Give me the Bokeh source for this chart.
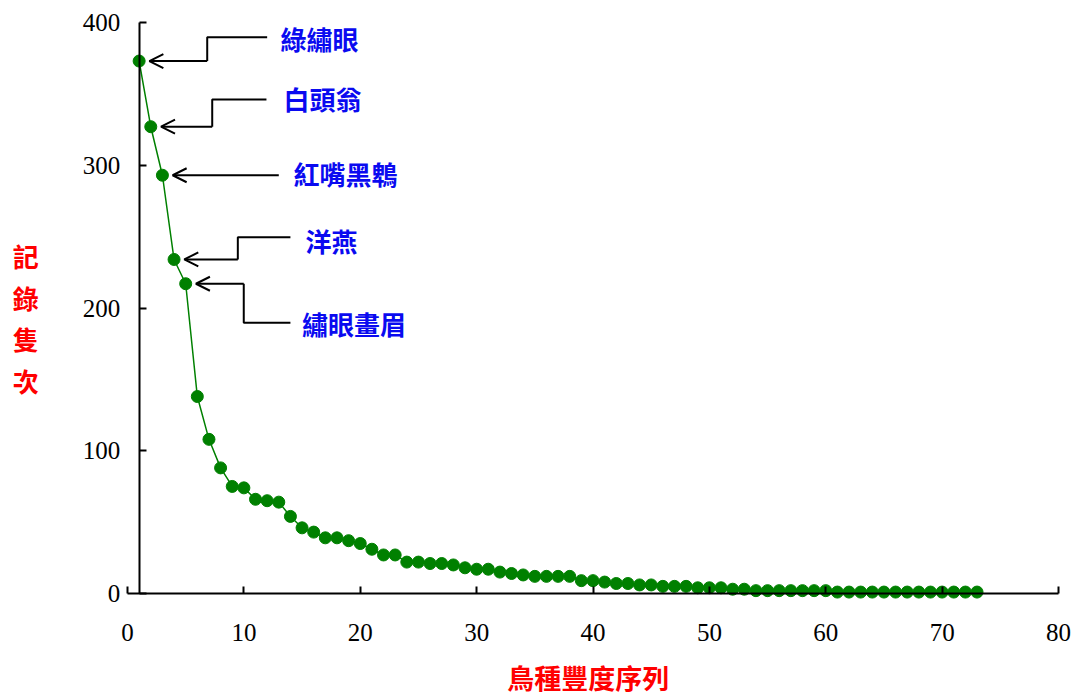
from bokeh.plotting import figure
from bokeh.models import Range1d, Label, Arrow, OpenHead
from bokeh.embed import file_html
from bokeh.resources import INLINE

# ---------------- data ----------------
ranks = list(range(1, 74))
counts = [373, 327, 293, 234, 217, 138, 108, 88, 75, 74,
          66, 65, 64, 54, 46, 43, 39, 39, 37, 35,
          31, 27, 27, 22, 22, 21, 21, 20, 18, 17,
          17, 15, 14, 13, 12, 12, 12, 12, 9, 9,
          8, 7, 7, 6, 6, 5, 5, 5, 4, 4,
          4, 3, 3, 2, 2, 2, 2, 2, 2, 2,
          1, 1, 1, 1, 1, 1, 1, 1, 1, 1, 1, 1, 1]
x_ticks = [0, 10, 20, 30, 40, 50, 60, 70, 80]
y_ticks = [0, 100, 200, 300, 400]

species = ["綠繡眼", "白頭翁", "紅嘴黑鵯", "洋燕", "繡眼畫眉"]
species_rank = [1, 2, 3, 4, 5]

x_title = "鳥種豐度序列"
y_title = "記\n錄\n隻\n次"

GREEN = "#008000"
BLUE = "#0A0AF0"
RED = "#FF0000"
CJK = "Noto Sans CJK TC"

W, H = 1076, 696
PX_X = 11.6375   # pixels per x unit
PX_Y = 1.4275    # pixels per y unit
X0_PIX, Y400_PIX = 127, 22

p = figure(width=W, height=H, output_backend="svg", toolbar_location=None,
           x_range=Range1d(-X0_PIX / PX_X, (W - X0_PIX) / PX_X),
           y_range=Range1d(400 - (H - Y400_PIX) / PX_Y, 400 + Y400_PIX / PX_Y),
           min_border=0, min_border_left=0, min_border_right=0,
           min_border_top=0, min_border_bottom=0)
p.outline_line_color = None
p.xgrid.grid_line_color = None
p.ygrid.grid_line_color = None
p.background_fill_color = "white"
p.border_fill_color = "white"

for ax in (p.xaxis[0], p.yaxis[0]):
    ax.axis_line_width = 2
    ax.axis_line_color = "black"
    ax.major_tick_line_width = 2
    ax.major_tick_line_color = "black"
    ax.major_tick_in = 7
    ax.major_tick_out = 0
    ax.minor_tick_line_color = None
    ax.major_label_text_font = "Liberation Serif"
    ax.major_label_text_font_size = "25px"
    ax.major_label_text_color = "black"

p.xaxis.ticker = x_ticks
p.yaxis.ticker = y_ticks
p.xaxis.bounds = (0, 80)
p.yaxis.bounds = (0, 400)
p.xaxis.fixed_location = 0
p.yaxis.fixed_location = 1
p.xaxis.major_label_standoff = 30
p.yaxis.major_label_standoff = 19

# series
p.line(ranks, counts, line_color=GREEN, line_width=1.5)
p.scatter(ranks, counts, size=12, fill_color=GREEN, line_color=GREEN)

# annotations: elbow connectors + open arrows
text_pos = [(13.15, 388.6), (13.4, 346.5), (14.26, 294.0), (15.3, 247.3), (15.0, 188.9)]
elbows = [(12.0, 6.85, 389.7), (11.94, 7.28, 346.1), (13.0, 13.0, 293.0),
          (14.0, 9.48, 249.6), (14.0, 9.99, 189.6)]

for name, r, (tx, ty), (ex_end, ex, ey) in zip(species, species_rank, text_pos, elbows):
    val = counts[r - 1]
    tip_x = r + 0.88
    if ex_end != ex:
        p.line([ex_end, ex, ex], [ey, ey, val], line_color="black", line_width=2)
    p.add_layout(Arrow(end=OpenHead(size=14, line_width=2, line_color="black"),
                       x_start=ex, y_start=val, x_end=tip_x, y_end=val,
                       line_width=2, line_color="black"))
    p.add_layout(Label(x=tx, y=ty, text=name, text_align="left", text_baseline="middle",
                       text_font=CJK, text_font_style="bold", text_font_size="26px",
                       text_color=BLUE))

# axis titles
p.add_layout(Label(x=39.6, y=-58.5, text=x_title, text_align="center", text_baseline="middle",
                   text_font=CJK, text_font_style="bold", text_font_size="27px",
                   text_color=RED))
p.add_layout(Label(x=-8.75, y=193.0, text=y_title, text_align="center", text_baseline="middle",
                   text_font=CJK, text_font_style="bold", text_font_size="26px",
                   text_line_height=1.12, text_color=RED))

open("out.html", "w").write(file_html(p, INLINE))
